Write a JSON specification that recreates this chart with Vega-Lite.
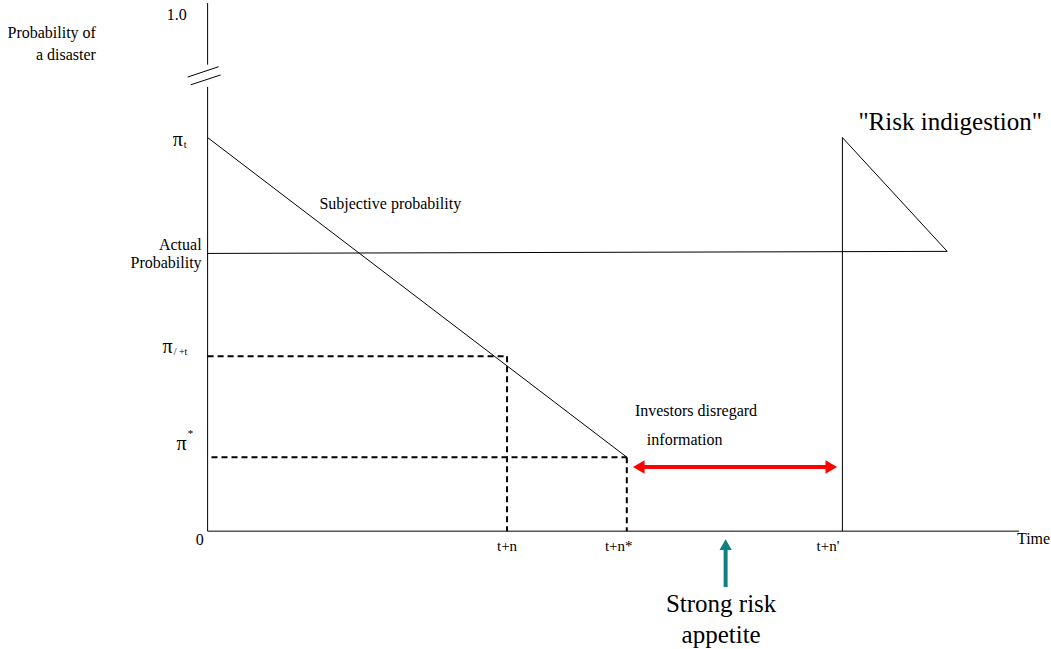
{
  "$schema": "https://vega.github.io/schema/vega-lite/v6.json",
  "width": 1051,
  "height": 649,
  "autosize": {"type": "fit", "contains": "padding"},
  "padding": 0,
  "background": "white",
  "config": {"view": {"stroke": null}},
  "datasets": {
    "solid": [
      {"part": "y axis lower", "x": 0, "y": 0, "x2": 0, "y2": 85.9},
      {"part": "y axis upper", "x": 0, "y": 90.2, "x2": 0, "y2": 102.1},
      {"part": "break 1", "x": -6.67, "y": 87.8, "x2": 3.67, "y2": 89.8},
      {"part": "break 2", "x": -5.67, "y": 86.3, "x2": 4.33, "y2": 88.2},
      {"part": "x axis", "x": 0, "y": 0, "x2": 271, "y2": 0},
      {"part": "subjective", "x": 0, "y": 76.1, "x2": 140, "y2": 14.3},
      {"part": "actual", "x": 0, "y": 53.7, "x2": 247, "y2": 54.1},
      {"part": "spike up", "x": 212, "y": 0, "x2": 212, "y2": 76.1},
      {"part": "spike down", "x": 212, "y": 76.1, "x2": 247, "y2": 54.1}
    ],
    "dashed": [
      {"part": "pi +t h", "x": 0, "y": 33.8, "x2": 100, "y2": 33.8},
      {"part": "pi +t v", "x": 100, "y": 33.8, "x2": 100, "y2": 0},
      {"part": "pi* h", "x": 1.3, "y": 14.3, "x2": 140, "y2": 14.3},
      {"part": "pi* v", "x": 140, "y": 14.3, "x2": 140, "y2": 0}
    ],
    "redShaft": [{"x": 145, "x2": 207, "y": 12.4}],
    "redLeft": [{"x": 144, "y": 12.4}],
    "redRight": [{"x": 208.3, "y": 12.4}],
    "tealShaft": [{"x": 173, "y": -10.8, "y2": -3.5}],
    "tealHead": [{"x": 173, "y": -2.6}],
    "rightLabels": [
      {"label": "Probability of", "x": -37.3, "y": 96.3},
      {"label": "a disaster", "x": -37.3, "y": 92.1},
      {"label": "1.0", "x": -7, "y": 99.8},
      {"label": "Actual", "x": -2, "y": 55.4},
      {"label": "Probability", "x": -2, "y": 51.9},
      {"label": "0", "x": -1.3, "y": -1.7}
    ],
    "piMain": [
      {"label": "π", "x": -8.3, "y": 75.6},
      {"label": "π", "x": -11.67, "y": 35.6},
      {"label": "π", "x": -7, "y": 16.9}
    ],
    "piSub": [
      {"label": "t", "x": -8.0, "y": 74.7},
      {"label": "/ +t", "x": -11.33, "y": 34.6}
    ],
    "piSup": [
      {"label": "*", "x": -6.67, "y": 18.8}
    ],
    "ticks": [
      {"label": "t+n", "x": 100, "y": -2.9},
      {"label": "t+n*", "x": 137.3, "y": -2.9},
      {"label": "t+n'", "x": 207.2, "y": -2.9}
    ],
    "leftLabels": [
      {"label": "Time", "x": 270.3, "y": -1.5},
      {"label": "Investors disregard", "x": 142.7, "y": 23.2},
      {"label": "information", "x": 146.7, "y": 17.6}
    ],
    "centerLabels": [
      {"label": "Subjective probability", "x": 61, "y": 63.3}
    ],
    "bigLabels": [
      {"label": "Strong risk", "x": 171.5, "y": -14.1},
      {"label": "appetite", "x": 171.5, "y": -20.1},
      {"label": "\"Risk indigestion\"", "x": 248, "y": 79.2}
    ]
  },
  "encoding": {
    "x": {"field": "x", "type": "quantitative", "axis": null, "scale": {"domain": [-69.333, 281], "nice": false, "zero": false}},
    "y": {"field": "y", "type": "quantitative", "axis": null, "scale": {"domain": [-22.59, 102.7], "nice": false, "zero": false}}
  },
  "layer": [
    {
      "data": {"name": "solid"},
      "mark": {"type": "rule", "color": "black", "strokeWidth": 1},
      "encoding": {"x2": {"field": "x2"}, "y2": {"field": "y2"}}
    },
    {
      "data": {"name": "dashed"},
      "mark": {"type": "rule", "color": "black", "strokeWidth": 2, "strokeDash": [6, 4]},
      "encoding": {"x2": {"field": "x2"}, "y2": {"field": "y2"}}
    },
    {
      "data": {"name": "redShaft"},
      "mark": {"type": "rule", "color": "#ff0000", "strokeWidth": 4},
      "encoding": {"x2": {"field": "x2"}}
    },
    {
      "data": {"name": "redLeft"},
      "mark": {"type": "point", "shape": "triangle-left", "filled": true, "color": "#ff0000", "size": 180, "opacity": 1}
    },
    {
      "data": {"name": "redRight"},
      "mark": {"type": "point", "shape": "triangle-right", "filled": true, "color": "#ff0000", "size": 180, "opacity": 1}
    },
    {
      "data": {"name": "tealShaft"},
      "mark": {"type": "rule", "color": "#0f7f7f", "strokeWidth": 4},
      "encoding": {"y2": {"field": "y2"}}
    },
    {
      "data": {"name": "tealHead"},
      "mark": {"type": "point", "shape": "triangle-up", "filled": true, "color": "#0f7f7f", "size": 150, "opacity": 1}
    },
    {
      "data": {"name": "rightLabels"},
      "mark": {"type": "text", "font": "Liberation Serif", "color": "black", "align": "right", "baseline": "middle", "fontSize": 16},
      "encoding": {"text": {"field": "label"}}
    },
    {
      "data": {"name": "piMain"},
      "mark": {"type": "text", "font": "Liberation Serif", "color": "black", "align": "right", "baseline": "middle", "fontSize": 20},
      "encoding": {"text": {"field": "label"}}
    },
    {
      "data": {"name": "piSub"},
      "mark": {"type": "text", "font": "Liberation Serif", "color": "black", "align": "left", "baseline": "middle", "fontSize": 10},
      "encoding": {"text": {"field": "label"}}
    },
    {
      "data": {"name": "piSup"},
      "mark": {"type": "text", "font": "Liberation Serif", "color": "black", "align": "left", "baseline": "middle", "fontSize": 11},
      "encoding": {"text": {"field": "label"}}
    },
    {
      "data": {"name": "ticks"},
      "mark": {"type": "text", "font": "Liberation Serif", "color": "black", "align": "center", "baseline": "middle", "fontSize": 15},
      "encoding": {"text": {"field": "label"}}
    },
    {
      "data": {"name": "leftLabels"},
      "mark": {"type": "text", "font": "Liberation Serif", "color": "black", "align": "left", "baseline": "middle", "fontSize": 16},
      "encoding": {"text": {"field": "label"}}
    },
    {
      "data": {"name": "centerLabels"},
      "mark": {"type": "text", "font": "Liberation Serif", "color": "black", "align": "center", "baseline": "middle", "fontSize": 16},
      "encoding": {"text": {"field": "label"}}
    },
    {
      "data": {"name": "bigLabels"},
      "mark": {"type": "text", "font": "Liberation Serif", "color": "black", "align": "center", "baseline": "middle", "fontSize": 25},
      "encoding": {"text": {"field": "label"}}
    }
  ]
}
